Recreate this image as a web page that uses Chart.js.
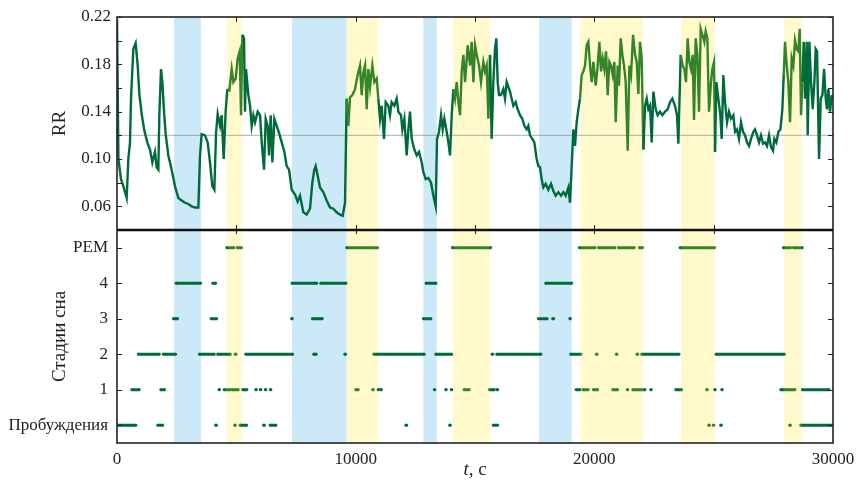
<!DOCTYPE html>
<html>
<head>
<meta charset="utf-8">
<script src="https://cdn.jsdelivr.net/npm/chart.js@4.4.1/dist/chart.umd.min.js"></script>
<style>
  body { margin: 0; background: #fff; }
  canvas { display: block; }
</style>
</head>
<body>
<canvas id="chart" width="856" height="482"></canvas>
<script>
// RR series (time, s / value)
const rrTime = [
  0, 60, 167, 265, 405, 475, 545, 587, 684, 782,
  866, 936, 1034, 1145, 1285, 1383, 1481, 1592, 1662, 1732,
  1774, 1844, 1900, 1970, 2039, 2151, 2291, 2431, 2570, 2710,
  2850, 2989, 3129, 3269, 3409, 3478, 3548, 3688, 3800, 3897,
  3995, 4079, 4149, 4219, 4317, 4386, 4470, 4554, 4624, 4708,
  4806, 4875, 4973, 5057, 5141, 5197, 5253, 5322, 5364, 5406,
  5504, 5574, 5644, 5714, 5783, 5895, 5993, 6063, 6161, 6231,
  6314, 6370, 6440, 6510, 6594, 6691, 6789, 6901, 7013, 7110,
  7208, 7320, 7460, 7570, 7668, 7807, 7947, 8087, 8184, 8268,
  8324, 8408, 8506, 8645, 8785, 8925, 9065, 9204, 9344, 9456,
  9554, 9623, 9693, 9763, 9861, 9973, 10084, 10182, 10252, 10322,
  10392, 10462, 10531, 10601, 10699, 10783, 10881, 10950, 11020, 11090,
  11188, 11258, 11370, 11439, 11509, 11621, 11719, 11789, 11900, 11956,
  12040, 12138, 12208, 12278, 12348, 12459, 12557, 12655, 12767, 12837,
  12934, 13046, 13158, 13256, 13354, 13409, 13493, 13577, 13647, 13717,
  13814, 13884, 13954, 14024, 14093, 14163, 14233, 14303, 14373, 14443,
  14513, 14582, 14694, 14792, 14862, 14932, 15002, 15070, 15168, 15251,
  15349, 15419, 15489, 15559, 15629, 15699, 15768, 15838, 15894, 15950,
  16006, 16090, 16187, 16257, 16327, 16397, 16467, 16537, 16607, 16704,
  16788, 16886, 16984, 17068, 17165, 17235, 17305, 17403, 17487, 17584,
  17654, 17724, 17794, 17864, 17962, 18073, 18185, 18283, 18381, 18493,
  18604, 18702, 18800, 18912, 18981, 19051, 19121, 19191, 19260, 19330,
  19400, 19470, 19540, 19610, 19680, 19750, 19820, 19889, 19959, 20057,
  20141, 20211, 20281, 20350, 20420, 20490, 20560, 20630, 20700, 20770,
  20839, 20895, 20979, 21035, 21105, 21175, 21244, 21314, 21398, 21468,
  21538, 21622, 21706, 21775, 21845, 21915, 21985, 22055, 22125, 22194,
  22264, 22334, 22404, 22474, 22572, 22654, 22752, 22849, 22961, 23073,
  23170, 23268, 23380, 23464, 23520, 23618, 23701, 23771, 23841, 23911,
  23981, 24051, 24121, 24176, 24246, 24316, 24386, 24456, 24526, 24610,
  24665, 24735, 24805, 24889, 24945, 25015, 25057, 25113, 25196, 25280,
  25336, 25406, 25476, 25560, 25643, 25727, 25825, 25895, 25979, 26062,
  26146, 26230, 26314, 26398, 26482, 26565, 26663, 26733, 26817, 26901,
  26984, 27068, 27152, 27236, 27320, 27404, 27487, 27543, 27627, 27711,
  27795, 27878, 27934, 27990, 28060, 28130, 28200, 28270, 28340, 28409,
  28479, 28549, 28605, 28661, 28717, 28773, 28829, 28898, 28940, 29010,
  29080, 29150, 29220, 29275, 29331, 29415, 29485, 29555, 29625, 29695,
  29751, 29806, 29876, 29946
];
const rrValue = [
  .218, .100, .083, .077, .067, .100, .114, .151, .193, .198,
  .179, .155, .138, .124, .113, .108, .097, .106, .093, .091,
  .137, .176, .165, .140, .121, .103, .091, .077, .067, .065,
  .063, .062, .060, .059, .059, .103, .121, .120, .114, .097,
  .077, .074, .122, .138, .128, .137, .100, .141, .159, .158,
  .176, .165, .168, .185, .191, .137, .205, .202, .140, .176,
  .154, .145, .128, .137, .131, .140, .137, .114, .091, .134,
  .128, .103, .137, .097, .134, .128, .122, .114, .106, .094,
  .091, .074, .070, .064, .069, .055, .053, .058, .080, .091,
  .094, .086, .076, .072, .065, .059, .058, .055, .053, .052,
  .063, .151, .128, .152, .154, .159, .171, .179, .154, .173,
  .179, .142, .176, .161, .179, .165, .168, .151, .134, .145,
  .117, .148, .145, .137, .148, .145, .151, .140, .137, .125,
  .134, .103, .125, .140, .117, .108, .103, .106, .097, .089,
  .083, .084, .080, .069, .060, .117, .123, .137, .125, .134,
  .123, .114, .103, .137, .159, .151, .165, .148, .137, .174,
  .188, .165, .196, .179, .199, .165, .196, .188, .179, .165,
  .182, .174, .179, .134, .188, .117, .165, .193, .202, .165,
  .154, .154, .159, .151, .165, .161, .157, .151, .145, .148,
  .142, .137, .134, .128, .125, .128, .120, .117, .114, .100,
  .094, .093, .083, .076, .079, .074, .079, .073, .069, .072,
  .069, .072, .069, .076, .063, .094, .125, .111, .131, .142,
  .151, .171, .174, .179, .196, .199, .179, .165, .182, .162,
  .179, .199, .174, .185, .176, .191, .154, .182, .179, .171,
  .182, .131, .179, .162, .202, .188, .179, .165, .107, .179,
  .171, .205, .188, .182, .155, .199, .185, .108, .145, .151,
  .142, .145, .114, .157, .142, .137, .140, .137, .140, .142,
  .148, .151, .145, .137, .113, .188, .179, .176, .165, .202,
  .182, .176, .188, .133, .202, .188, .140, .210, .205, .199,
  .208, .202, .140, .165, .176, .182, .106, .165, .151, .137,
  .117, .171, .148, .131, .140, .134, .137, .123, .125, .117,
  .131, .123, .120, .114, .111, .117, .123, .125, .120, .114,
  .120, .113, .114, .111, .120, .110, .107, .117, .114, .123,
  .125, .142, .171, .199, .179, .165, .131, .185, .179, .200,
  .193, .191, .210, .137, .165, .199, .151, .199, .120, .199,
  .165, .142, .165, .193, .191, .100, .151, .154, .176, .151,
  .142, .159, .140, .154
];

// Sleep stage episodes, [start, end] in seconds
const stageWake = [[0, 796], [1705, 1915], [4130, 4170], [4930, 4960], [5154, 5433], [6140, 6180],
  [6411, 6662], [12100, 12140], [13935, 13970], [15767, 15950], [24790, 24820], [24980, 25010],
  [25290, 25325], [28185, 28215], [28646, 29945]];
const stage1 = [[615, 936], [1830, 1998], [4270, 4300], [4483, 4763], [4832, 5083], [5265, 5447],
  [5810, 5840], [6000, 6030], [6210, 6240], [6420, 6450], [10000, 10111], [10710, 10740],
  [10940, 10970], [11050, 11080], [13290, 13320], [13770, 13800], [14000, 14030], [14539, 14762],
  [15600, 15809], [15920, 15950], [19232, 19400], [19525, 19749], [19958, 20140], [20770, 20979],
  [21375, 21405], [21607, 22123], [22360, 22390], [23409, 23660], [24705, 24735], [25040, 25070],
  [25335, 25365], [27808, 27989], [28060, 28408], [28714, 29833]];
const stage2 = [[894, 1773], [1940, 2458], [3450, 4077], [4217, 4749], [4950, 4990], [5391, 7361],
  [8240, 8270], [8320, 8350], [9540, 9580], [10754, 12876], [13355, 14024], [15710, 15750],
  [15908, 17766], [19010, 19442], [20085, 20115], [20920, 20950], [21785, 21820], [21983, 23549],
  [25098, 27958]];
const stage3 = [[2360, 2542], [3939, 4178], [7310, 7350], [8185, 8604], [12835, 13157],
  [17653, 18030], [18250, 18300], [18970, 19000]];
const stage4 = [[2472, 3506], [4010, 4135], [7333, 8296], [8340, 8370], [8534, 9595],
  [12947, 13366], [17963, 19052]];
const stageRem = [[4596, 4902], [5040, 5223], [9623, 10922], [14050, 15658], [19370, 20028],
  [20167, 20866], [21005, 21676], [21885, 22025], [23590, 25043], [27920, 28228], [28337, 28714]];

// shaded periods
const deepPeriods = [[2390, 3520], [7330, 9625], [12837, 13395], [17682, 19051]];
const remPeriods = [[4610, 5225], [9625, 10925], [14080, 15629], [19414, 22027], [23632, 25043], [27962, 28689]];

const stageLabels = ['Пробуждения', '1', '2', '3', '4', 'РЕМ'];
const stageTicks = [0, 1, 2, 3, 4, 5];
const rrTicks = [0.06, 0.10, 0.14, 0.18, 0.22];
const xTicks = [0, 10000, 20000, 30000];

const DARK = '#006b3a';
const LIGHT = '#358528';
const FONT = 'Liberation Serif, Times New Roman, serif';

const inRem = x => remPeriods.some(p => x >= p[0] && x <= p[1]);

const rrData = rrTime.map((t, i) => ({ x: t, y: rrValue[i] }));

const stageData = [];
[stageWake, stage1, stage2, stage3, stage4, stageRem].forEach((list, level) => {
  list.forEach(([a, b]) => {
    stageData.push({ x: a, y: level }, { x: b, y: level }, { x: b, y: null });
  });
});

const segColor = ctx => inRem((ctx.p0.parsed.x + ctx.p1.parsed.x) / 2) ? LIGHT : DARK;

// background bands, frame, inner ticks and axis titles
const framePlugin = {
  id: 'frame',
  beforeDatasetsDraw(chart) {
    const { ctx, chartArea: a, scales } = chart;
    const x = scales.x;
    ctx.save();
    deepPeriods.forEach(([s, e]) => {
      ctx.fillStyle = '#cbe9f6';
      ctx.fillRect(x.getPixelForValue(s), a.top, x.getPixelForValue(e) - x.getPixelForValue(s), a.bottom - a.top);
    });
    remPeriods.forEach(([s, e]) => {
      ctx.fillStyle = '#fff9cc';
      ctx.fillRect(x.getPixelForValue(s), a.top, x.getPixelForValue(e) - x.getPixelForValue(s), a.bottom - a.top);
    });
    const yg = scales.yRR.getPixelForValue(0.12);
    ctx.strokeStyle = 'rgba(110,110,110,0.55)';
    ctx.lineWidth = 1;
    ctx.beginPath();
    ctx.moveTo(a.left, yg);
    ctx.lineTo(a.right, yg);
    ctx.stroke();
    ctx.restore();
  },
  afterDraw(chart) {
    const { ctx, chartArea: a, scales } = chart;
    const x = scales.x, yRR = scales.yRR, yS = scales.yStage;
    const mid = yRR.bottom;
    ctx.save();
    ctx.strokeStyle = '#222';
    ctx.lineWidth = 1;
    ctx.beginPath();
    for (let v = 0.04; v <= 0.2201; v += 0.02) {
      const p = Math.round(yRR.getPixelForValue(v)) + 0.5;
      ctx.moveTo(a.left, p); ctx.lineTo(a.left + 5, p);
      ctx.moveTo(a.right, p); ctx.lineTo(a.right - 5, p);
    }
    stageTicks.forEach(v => {
      const p = Math.round(yS.getPixelForValue(v)) + 0.5;
      ctx.moveTo(a.left, p); ctx.lineTo(a.left + 5, p);
      ctx.moveTo(a.right, p); ctx.lineTo(a.right - 5, p);
    });
    for (let v = 5000; v < 30000; v += 5000) {
      const p = Math.round(x.getPixelForValue(v)) + 0.5;
      ctx.moveTo(p, a.top); ctx.lineTo(p, a.top + 5);
      ctx.moveTo(p, mid - 5); ctx.lineTo(p, mid + 4);
    }
    ctx.stroke();
    ctx.lineWidth = 1.6;
    ctx.strokeRect(a.left, a.top, a.right - a.left, a.bottom - a.top);
    ctx.strokeStyle = '#111';
    ctx.lineWidth = 2.6;
    ctx.beginPath();
    ctx.moveTo(a.left, mid); ctx.lineTo(a.right, mid);
    ctx.stroke();

    ctx.fillStyle = '#222';
    ctx.font = '19px ' + FONT;
    ctx.textAlign = 'center';
    ctx.textBaseline = 'middle';
    [['RR', (yRR.top + yRR.bottom) / 2], ['Стадии сна', (yS.top + yS.bottom) / 2]].forEach(([txt, cy]) => {
      ctx.save();
      ctx.translate(60, cy);
      ctx.rotate(-Math.PI / 2);
      ctx.fillText(txt, 0, 0);
      ctx.restore();
    });
    ctx.textAlign = 'left';
    ctx.font = 'italic 19px ' + FONT;
    const wT = ctx.measureText('t').width;
    ctx.font = '19px ' + FONT;
    const wRest = ctx.measureText(', c').width;
    const cx = (a.left + a.right) / 2 - (wT + wRest) / 2;
    ctx.font = 'italic 19px ' + FONT;
    ctx.fillText('t', cx, 470);
    ctx.font = '19px ' + FONT;
    ctx.fillText(', c', cx + wT, 470);
    ctx.restore();
  }
};

const tickFont = { family: FONT, size: 17 };

new Chart(document.getElementById('chart'), {
  type: 'line',
  data: {
    datasets: [
      {
        data: rrData,
        yAxisID: 'yRR',
        borderWidth: 2.4,
        pointRadius: 0,
        borderColor: DARK,
        segment: { borderColor: segColor }
      },
      {
        data: stageData,
        yAxisID: 'yStage',
        borderWidth: 3,
        pointRadius: 1.4,
        pointBorderWidth: 0,
        pointBackgroundColor: ctx => (ctx.raw && inRem(ctx.raw.x)) ? LIGHT : DARK,
        borderColor: DARK,
        spanGaps: false,
        segment: { borderColor: segColor }
      }
    ]
  },
  options: {
    responsive: false,
    animation: false,
    layout: { padding: { top: 17, right: 23, left: 0, bottom: 0 } },
    plugins: { legend: { display: false }, tooltip: { enabled: false } },
    elements: { line: { tension: 0 } },
    scales: {
      x: {
        type: 'linear',
        min: 0,
        max: 30000,
        afterBuildTicks: s => { s.ticks = xTicks.map(v => ({ value: v })); },
        afterFit: s => { s.height = 39; s.paddingLeft = 0; s.paddingRight = 0; },
        ticks: { callback: v => String(v), font: tickFont, color: '#222', padding: 6, maxRotation: 0, autoSkip: false },
        grid: { display: false, drawTicks: false },
        border: { display: false }
      },
      yStage: {
        type: 'linear',
        position: 'left',
        stack: 'panels',
        stackWeight: 1,
        min: -0.5,
        max: 5.5,
        afterBuildTicks: s => { s.ticks = stageTicks.map(v => ({ value: v })); },
        afterFit: s => { s.width = 117; s.paddingTop = 0; s.paddingBottom = 0; },
        ticks: { callback: v => stageLabels[v], font: tickFont, color: '#222', padding: 9, autoSkip: false },
        grid: { display: false, drawTicks: false },
        border: { display: false }
      },
      yRR: {
        type: 'linear',
        position: 'left',
        stack: 'panels',
        stackWeight: 1,
        min: 0.04,
        max: 0.22,
        afterBuildTicks: s => { s.ticks = rrTicks.map(v => ({ value: v })); },
        afterFit: s => { s.width = 117; s.paddingTop = 0; s.paddingBottom = 0; },
        ticks: { callback: v => v.toFixed(2), font: tickFont, color: '#222', padding: 6, autoSkip: false },
        grid: { display: false, drawTicks: false },
        border: { display: false }
      }
    }
  },
  plugins: [framePlugin]
});
</script>
</body>
</html>
